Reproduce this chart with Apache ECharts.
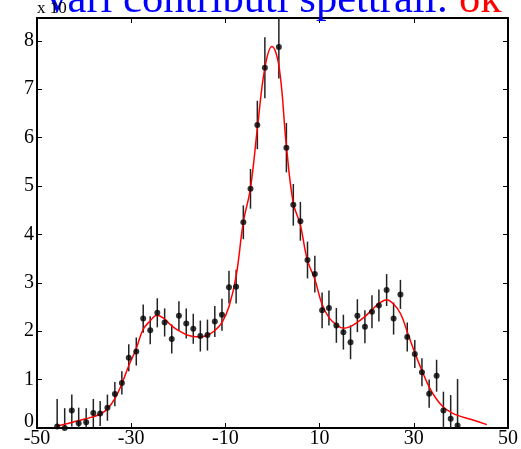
<!DOCTYPE html>
<html>
<head>
<meta charset="utf-8">
<script src="https://cdn.jsdelivr.net/npm/echarts@6/dist/echarts.min.js"></script>
<style>
html, body { margin: 0; padding: 0; background: #fff; }
#chart { width: 521px; height: 449px; }
</style>
</head>
<body>
<div id="chart"></div>
<script>
// misure (valori in unita' di 10^4)
var dataX = [-45.72, -44.12, -42.61, -41.15, -39.56, -38.04, -36.59, -35.05, -33.47, -31.98,
             -30.52, -28.92, -27.45, -25.96, -24.46, -22.90, -21.39, -19.87, -18.31, -16.82,
             -15.32, -13.81, -12.25, -10.73, -9.24, -7.72, -6.19, -4.67, -3.22, -1.62,
             1.35, 2.95, 4.42, 5.92, 7.43, 8.99, 10.53, 11.98, 13.56, 15.05,
             16.57, 18.02, 19.62, 21.12, 22.59, 24.23, 25.71, 27.16, 28.61, 30.21,
             31.73, 33.26, 34.84, 36.29, 37.83, 39.29];
var dataY = [0.03, 0.0, 0.36, 0.10, 0.12, 0.31, 0.30, 0.42, 0.70, 0.93,
             1.45, 1.58, 2.26, 2.02, 2.38, 2.18, 1.84, 2.32, 2.16, 2.05,
             1.90, 1.92, 2.20, 2.34, 2.91, 2.92, 4.25, 4.94, 6.26, 7.44,
             7.87, 5.79, 4.61, 4.27, 3.47, 3.18, 2.43, 2.48, 2.12, 1.98,
             1.77, 2.32, 2.09, 2.40, 2.53, 2.85, 2.26, 2.76, 1.88, 1.53,
             1.15, 0.71, 1.08, 0.36, 0.19, 0.05];
var dataErr = [0.57, 0.41, 0.33, 0.32, 0.29, 0.29, 0.26, 0.27, 0.25, 0.24,
               0.28, 0.29, 0.29, 0.29, 0.30, 0.29, 0.30, 0.30, 0.31, 0.31,
               0.32, 0.32, 0.32, 0.33, 0.34, 0.35, 0.35, 0.41, 0.50, 0.63,
               0.65, 0.51, 0.43, 0.40, 0.38, 0.38, 0.37, 0.36, 0.36, 0.36,
               0.35, 0.34, 0.34, 0.34, 0.33, 0.33, 0.33, 0.30, 0.30, 0.29,
               0.29, 0.29, 0.33, 0.39, 0.49, 0.96];

// curva di fit
var fitX = [-45.7, -42.4, -39.6, -36.5, -35.0, -33.5, -32.0, -30.5, -29.0, -27.5,
            -26.0, -24.5, -22.9, -21.4, -19.9, -18.3, -16.8, -15.3, -13.8, -12.3,
            -10.7, -9.2, -7.7, -6.2, -4.7, -3.2, -1.6, -0.1, 1.4, 2.9,
            4.4, 5.9, 7.4, 9.0, 10.5, 12.0, 13.6, 15.1, 16.6, 18.0,
            19.6, 21.1, 22.6, 24.2, 25.7, 27.2, 28.6, 30.2, 31.7, 33.3,
            34.8, 36.3, 37.8, 39.3, 42.4, 45.5];
var fitY = [0.04, 0.12, 0.19, 0.29, 0.40, 0.60, 0.91, 1.29, 1.62, 2.03,
            2.21, 2.33, 2.25, 2.11, 2.01, 1.93, 1.89, 1.88, 1.92, 2.01,
            2.18, 2.52, 3.15, 4.25, 4.94, 6.20, 7.45, 7.88, 7.46, 5.88,
            4.65, 4.20, 3.47, 3.07, 2.56, 2.28, 2.13, 2.06, 2.10, 2.18,
            2.30, 2.44, 2.57, 2.65, 2.56, 2.36, 1.99, 1.56, 1.19, 0.84,
            0.60, 0.43, 0.33, 0.26, 0.17, 0.07];

var xTicks = [-50, -30, -10, 10, 30, 50];
var yTicks = [0, 1, 2, 3, 4, 5, 6, 7, 8];
var titleMain = 'Vari contributi spettrali: ';
var titleOk = 'ok';
var expText = 'x 10';

var points = [], bars = [], fit = [];
for (var i = 0; i < dataX.length; i++) {
	points.push([dataX[i], dataY[i]]);
	bars.push([dataX[i], dataY[i] - dataErr[i], dataY[i] + dataErr[i]]);
}
for (var j = 0; j < fitX.length; j++) {
	fit.push([fitX[j], fitY[j]]);
}

var font = 'Liberation Serif';

function xAxisOf(pos, labels) {
	return {
		type: 'value', position: pos, min: -50, max: 50,
		axisLine: { show: true, onZero: false, lineStyle: { color: '#000', width: 2 } },
		axisTick: { show: true, inside: true, length: 5, customValues: xTicks, lineStyle: { color: '#000', width: 1 } },
		axisLabel: { show: labels, customValues: xTicks, margin: 1, color: '#000', fontFamily: font, fontSize: 20 },
		splitLine: { show: false }
	};
}
function yAxisOf(pos, labels) {
	return {
		type: 'value', position: pos, min: 0, max: 8.47,
		axisLine: { show: true, onZero: false, lineStyle: { color: '#000', width: 2 } },
		axisTick: { show: true, inside: true, length: 5, customValues: yTicks, lineStyle: { color: '#000', width: 1 } },
		axisLabel: {
			show: labels, customValues: yTicks, margin: 3, color: '#000', fontFamily: font, fontSize: 20,
			// lo zero sta un po' piu' in alto, sopra il -50
			formatter: function(v) { return v === 0 ? '{z|0}' : '' + v; },
			rich: { z: { fontFamily: font, fontSize: 20, color: '#000', padding: [0, 0, 12, 0] } }
		},
		splitLine: { show: false }
	};
}

var myChart = echarts.init(document.getElementById('chart'));
var option = {
	animation: false,
	backgroundColor: '#fff',
	grid: { left: 37, right: 3, top: 18, bottom: 20 },
	xAxis: [xAxisOf('bottom', true), xAxisOf('top', false)],
	yAxis: [yAxisOf('left', true), yAxisOf('right', false)],
	graphic: [
		{
			type: 'text', x: 459, y: 1, z: 10,
			style: { text: titleMain, fill: '#0000ff', font: '42.6px "Liberation Serif"', align: 'right', verticalAlign: 'middle' }
		},
		{
			type: 'text', x: 459, y: 1, z: 10,
			style: { text: titleOk, fill: '#ff0000', font: '42.6px "Liberation Serif"', align: 'left', verticalAlign: 'middle' }
		},
		{
			type: 'text', x: 37, y: 9, z: 20,
			style: { text: expText, fill: '#000', font: '17px "Liberation Serif"', align: 'left', verticalAlign: 'middle' }
		}
	],
	series: [
		{
			type: 'custom',
			clip: true,
			data: bars,
			renderItem: function(params, api) {
				var p1 = api.coord([api.value(0), api.value(1)]);
				var p2 = api.coord([api.value(0), api.value(2)]);
				return {
					type: 'line',
					shape: { x1: p1[0], y1: p1[1], x2: p2[0], y2: p2[1] },
					style: { stroke: '#222', lineWidth: 1.5 }
				};
			},
			z: 2
		},
		{
			type: 'line',
			data: fit,
			smooth: 0.4,
			showSymbol: false,
			lineStyle: { color: '#ff0000', width: 1.5 },
			z: 3
		},
		{
			type: 'scatter',
			data: points,
			symbolSize: 6,
			itemStyle: { color: '#000' },
			z: 4
		}
	]
};
myChart.setOption(option);
</script>
</body>
</html>
